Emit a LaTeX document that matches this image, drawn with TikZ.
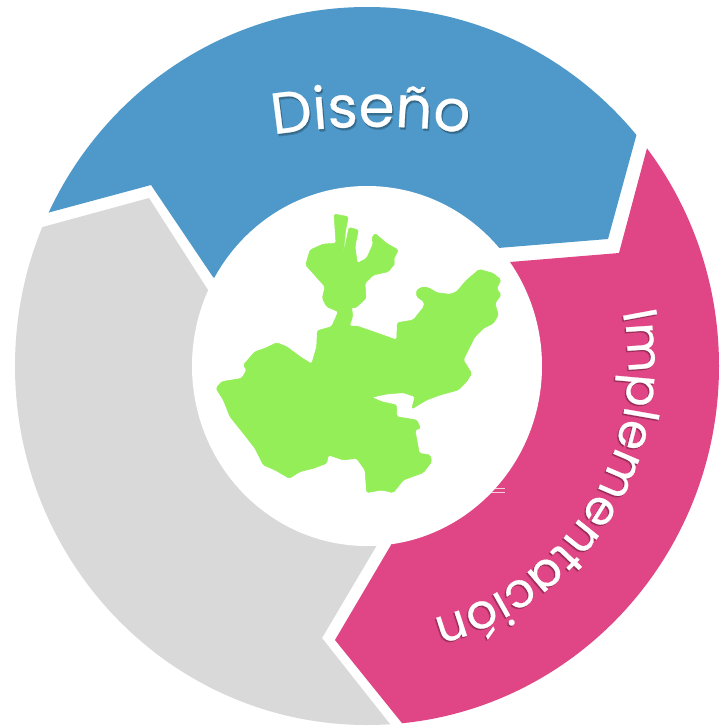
\documentclass[tikz,border=0pt]{standalone}
\usepackage{fontspec}
\setmainfont{Poppins}[FakeBold=0.5]
\usetikzlibrary{decorations.text}
\definecolor{ringblue}{HTML}{4E99C9}
\definecolor{ringpink}{HTML}{E04585}
\definecolor{ringgray}{HTML}{D9D9D9}
\definecolor{mapgreen}{HTML}{93EE57}
\tikzset{
  ring/.style={fill=#1,draw=none},
  mapshape/.style={fill=mapgreen,draw=mapgreen,line width=0.5pt,line join=round,rounded corners=1.6pt},
  speck/.style={draw=white,line width=0.6pt,opacity=.75},
}
\newcommand{\outerring}{(367,366) ellipse [x radius=352,y radius=359]}
\newcommand{\dsnpath}[1]{\path[decorate,decoration={text along path,text align={center},
  text={|\fontsize{58}{58}\selectfont\color{#1}|Diseño}}]
  (251,139) .. controls (325,123) and (417,123) .. (491,137);}
\newcommand{\imppath}[1]{\path[decorate,decoration={text along path,text align={center},
  text={|\fontsize{48}{48}\selectfont\color{#1}|Implementación}}]
  (367,366) ++(-31:261) arc[start angle=-31,end angle=94.5,radius=261];}
\begin{document}
\begin{tikzpicture}[x=1pt,y=-1pt]
\useasboundingbox (0,0) rectangle (725,726);
\fill[white] (0,0) rectangle (725,726);
% blue
\begin{scope}
\clip (-50,239) -- (47,213) -- (151,185) -- (213,277) -- (367,366) -- (498,248) -- (608,239) -- (637,133) -- (660,49) -- (660,-50) -- (-50,-50) -- cycle;
\fill[ring=ringblue] \outerring;
\end{scope}
% pink
\begin{scope}
\clip (670,62) -- (800,62) -- (800,800) -- (464,800) -- (335,640) -- (391,545) -- (367,366) -- (510,262) -- (619,253) -- cycle;
\fill[ring=ringpink] \outerring;
\end{scope}
% gray
\begin{scope}
\clip (-60,255) -- (-60,800) -- (450,800) -- (322,638) -- (377,545) -- (367,366) -- (208,290) -- (149,198) -- cycle;
\fill[ring=ringgray] \outerring;
\end{scope}
% centre disc
\fill[white] (367,366) ellipse [x radius=175,y radius=180];
% faint specks at the disc edge
\draw[speck] (490,488) -- (505,488);
\draw[speck] (490,492) -- (505,492);
% map
\begin{scope}[shift={(200,200)},x=0.33333pt,y=-0.33333pt]
\draw[mapshape] (402,42) -- (445,50) -- (437,90) -- (429,168) -- (447,82) -- (475,90) -- (465,140) -- (472,190) -- (500,175) -- (520,130) -- (515,115) -- (525,100) -- (560,130) -- (595,150) -- (580,180) -- (585,190) -- (565,215) -- (520,225) -- (495,250) -- (498,295) -- (465,325) -- (455,320) -- (458,350) -- (448,378) -- (470,378) -- (520,395) -- (590,420) -- (592,368) -- (640,360) -- (672,320) -- (672,305) -- (650,290) -- (650,270) -- (670,260) -- (690,265) -- (710,278) -- (750,283) -- (770,275) -- (800,240) -- (838,208) -- (880,220) -- (903,240) -- (890,265) -- (903,285) -- (885,310) -- (895,345) -- (880,370) -- (850,385) -- (825,410) -- (790,480) -- (815,520) -- (800,545) -- (775,570) -- (720,585) -- (680,600) -- (655,615) -- (635,627) -- (645,590) -- (610,578) -- (560,582) -- (515,592) -- (545,605) -- (590,615) -- (590,650) -- (650,660) -- (662,685) -- (645,690) -- (658,760) -- (690,765) -- (695,785) -- (670,818) -- (610,840) -- (580,878) -- (545,870) -- (500,878) -- (495,810) -- (470,775) -- (430,780) -- (385,765) -- (380,790) -- (340,805) -- (300,815) -- (268,835) -- (225,810) -- (190,795) -- (165,745) -- (130,700) -- (90,650) -- (70,600) -- (48,565) -- (65,545) -- (125,535) -- (140,510) -- (130,495) -- (165,455) -- (195,445) -- (230,428) -- (260,440) -- (300,470) -- (335,492) -- (350,440) -- (352,392) -- (395,380) -- (415,335) -- (380,320) -- (367,295) -- (375,260) -- (317,195) -- (330,150) -- (370,132) -- (408,130) -- cycle;
\end{scope}
% labels: soft shadow then white text
\begin{scope}[opacity=.16,shift={(1.5,2.5)}]\dsnpath{black}\end{scope}
\begin{scope}[opacity=.16,shift={(0.8,1.5)}]\dsnpath{black}\end{scope}
\dsnpath{white}
\begin{scope}[opacity=.16,shift={(-1.5,1.5)}]\imppath{black}\end{scope}
\begin{scope}[opacity=.16,shift={(-0.8,1)}]\imppath{black}\end{scope}
\imppath{white}
\end{tikzpicture}
\end{document}
